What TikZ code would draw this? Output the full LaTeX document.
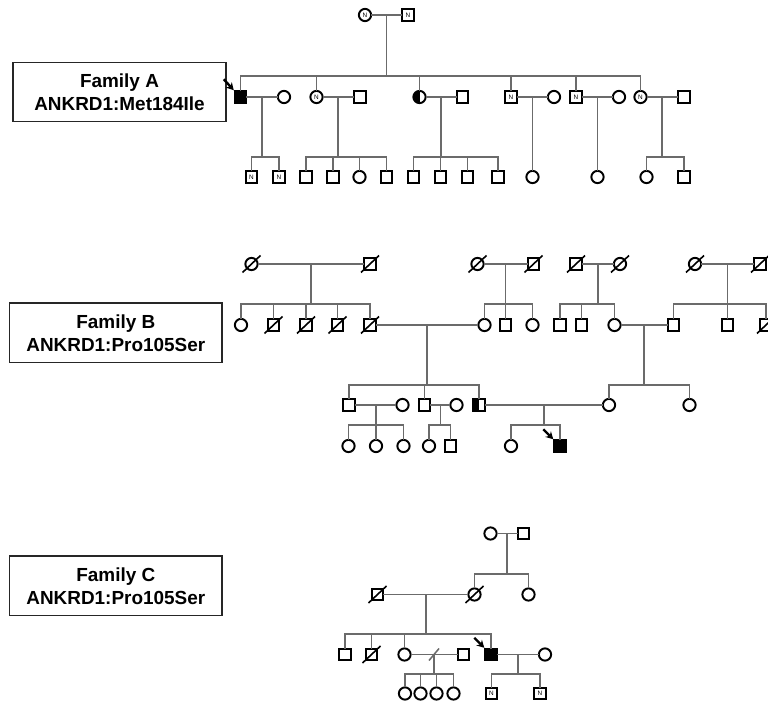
\documentclass[tikz,border=0pt]{standalone}
\usepackage{fontspec}
\setmainfont{Liberation Sans}
\usetikzlibrary{calc,arrows.meta}
\tikzset{
  sym/.style={draw=black, line width=1.45pt, minimum size=8.6pt, inner sep=0pt, outer sep=0pt, fill=white, font=\fontsize{4.8}{5}\selectfont},
  male/.style={sym, rectangle},
  female/.style={sym, circle, minimum size=9.2pt},
  aff/.style={fill=black},
  half/.style={path picture={\fill[black] (path picture bounding box.south west) rectangle (path picture bounding box.north);}},
  conn/.style={draw=black!58, line width=1.15pt},
  dslash/.style={draw=black, line width=1.2pt},
  prob/.style={-{Stealth[length=5.5pt,width=6pt]}, line width=1.8pt, draw=black},
  famlabel/.style={draw=black!85, line width=1.2pt, minimum width=159.5pt, minimum height=44.5pt, align=center, inner sep=0pt, font=\bfseries\fontsize{14.2}{17.3}\selectfont},
}
\begin{document}
\begin{tikzpicture}[x=0.75pt,y=-0.75pt]
\useasboundingbox (0,0) rectangle (768,702);

% ---------------- labels
\node[famlabel] (labA) at (119.5,92) {Family A\\ANKRD1:Met184Ile};
\node[famlabel] (labB) at (115.8,332.8) {Family B\\ANKRD1:Pro105Ser};
\node[famlabel] (labC) at (115.8,585.8) {Family C\\ANKRD1:Pro105Ser};

% ================= Family A
\node[female] (a0f) at (365,15) {N};
\node[male]   (a0m) at (408,15) {N};
\node[male,aff] (a1) at (240.5,97) {};
\node[female] (a1s) at (284,97) {};
\node[female] (a2) at (316.5,97) {N};
\node[male]   (a2s) at (360,97) {};
\node[female,half] (a3) at (419.5,97) {};
\node[male]   (a3s) at (462.5,97) {};
\node[male]   (a4) at (511,97) {N};
\node[female] (a4s) at (554,97) {};
\node[male]   (a5) at (576,97) {N};
\node[female] (a5s) at (619,97) {};
\node[female] (a6) at (640.5,97) {N};
\node[male]   (a6s) at (684,97) {};

\node[male] (a1c1) at (251.5,177) {N};
\node[male] (a1c2) at (279,177) {N};
\node[male] (a2c1) at (306,177) {};
\node[male] (a2c2) at (333,177) {};
\node[female] (a2c3) at (359.5,177) {};
\node[male] (a2c4) at (386.5,177) {};
\node[male] (a3c1) at (413.5,177) {};
\node[male] (a3c2) at (440.5,177) {};
\node[male] (a3c3) at (467.5,177) {};
\node[male] (a3c4) at (498,177) {};
\node[female] (a4c1) at (532.5,177) {};
\node[female] (a5c1) at (597.5,177) {};
\node[female] (a6c1) at (646.5,177) {};
\node[male] (a6c2) at (684,177) {};

\draw[conn] (a0f) -- (a0m);
\draw[conn] ($(a0f)!0.5!(a0m)$) -- ++(0,61) coordinate (sa0);
\foreach \c in {a1,a2,a3,a4,a5,a6} \draw[conn] (\c.north) |- (sa0);
\foreach \p/\q in {a1/a1s,a2/a2s,a3/a3s,a4/a4s,a5/a5s,a6/a6s} \draw[conn] (\p) -- (\q);
\draw[conn] ($(a1)!0.5!(a1s)$) -- ++(0,60) coordinate (sa1);
\foreach \c in {a1c1,a1c2} \draw[conn] (\c.north) |- (sa1);
\draw[conn] ($(a2)!0.5!(a2s)$) -- ++(0,60) coordinate (sa2);
\foreach \c in {a2c1,a2c2,a2c3,a2c4} \draw[conn] (\c.north) |- (sa2);
\draw[conn] ($(a3)!0.5!(a3s)$) -- ++(0,60) coordinate (sa3);
\foreach \c in {a3c1,a3c2,a3c3,a3c4} \draw[conn] (\c.north) |- (sa3);
\draw[conn] ($(a4)!0.5!(a4s)$) -- (a4c1.north);
\draw[conn] ($(a5)!0.5!(a5s)$) -- (a5c1.north);
\draw[conn] ($(a6)!0.5!(a6s)$) -- ++(0,60) coordinate (sa6);
\foreach \c in {a6c1,a6c2} \draw[conn] (\c.north) |- (sa6);
\draw[prob] ($(a1.north west)+(-11,-12)$) -- ($(a1.north west)+(-1,-1)$);

% ================= Family B
\node[female] (b1f) at (251.5,264) {};
\node[male]   (b1m) at (370,264) {};
\node[female] (b2f) at (477.5,264) {};
\node[male]   (b2m) at (533.5,264) {};
\node[male]   (b3m) at (576,264) {};
\node[female] (b3f) at (620,264) {};
\node[female] (b4f) at (695,264) {};
\node[male]   (b4m) at (760,264) {};

\node[female] (b1c1) at (241,325) {};
\node[male] (b1c2) at (273.5,325) {};
\node[male] (b1c3) at (306,325) {};
\node[male] (b1c4) at (337.5,325) {};
\node[male] (b1c5) at (370,325) {};
\node[female] (b2c1) at (484.5,325) {};
\node[male] (b2c2) at (505.5,325) {};
\node[female] (b2c3) at (532.5,325) {};
\node[male] (b3c1) at (560,325) {};
\node[male] (b3c2) at (581.5,325) {};
\node[female] (b3c3) at (614.5,325) {};
\node[male] (b4c1) at (673.5,325) {};
\node[male] (b4c2) at (727.5,325) {};
\node[male] (b4c3) at (766,325) {};

\node[male] (b5c1) at (349,405) {};
\node[female] (b5c1s) at (402.5,405) {};
\node[male] (b5c2) at (424.5,405) {};
\node[female] (b5c2s) at (456.5,405) {};
\node[male,half] (b5c3) at (479,405) {};
\node[female] (b6c1) at (609,405) {};
\node[female] (b6c2) at (689.5,405) {};

\node[female] (g1) at (348.5,446) {};
\node[female] (g2) at (376,446) {};
\node[female] (g3) at (403.5,446) {};
\node[female] (g4) at (429,446) {};
\node[male]   (g5) at (450.5,446) {};
\node[female] (g6) at (511,446) {};
\node[male,aff] (g7) at (560,446) {};

\foreach \p/\q in {b1f/b1m,b2f/b2m,b3m/b3f,b4f/b4m,b1c5/b2c1,b3c3/b4c1,b5c1/b5c1s,b5c2/b5c2s,b5c3/b6c1} \draw[conn] (\p) -- (\q);
\draw[conn] ($(b1f)!0.5!(b1m)$) -- ++(0,40) coordinate (sb1);
\foreach \c in {b1c1,b1c2,b1c3,b1c4,b1c5} \draw[conn] (\c.north) |- (sb1);
\draw[conn] ($(b2f)!0.5!(b2m)$) -- ++(0,40) coordinate (sb2);
\foreach \c in {b2c1,b2c2,b2c3} \draw[conn] (\c.north) |- (sb2);
\draw[conn] ($(b3m)!0.5!(b3f)$) -- ++(0,40) coordinate (sb3);
\foreach \c in {b3c1,b3c2,b3c3} \draw[conn] (\c.north) |- (sb3);
\draw[conn] ($(b4f)!0.5!(b4m)$) -- ++(0,40) coordinate (sb4);
\foreach \c in {b4c1,b4c2,b4c3} \draw[conn] (\c.north) |- (sb4);
\draw[conn] ($(b1c5)!0.5!(b2c1)$) -- ++(0,60) coordinate (sb5);
\foreach \c in {b5c1,b5c2,b5c3} \draw[conn] (\c.north) |- (sb5);
\draw[conn] ($(b3c3)!0.5!(b4c1)$) -- ++(0,60) coordinate (sb6);
\foreach \c in {b6c1,b6c2} \draw[conn] (\c.north) |- (sb6);
\draw[conn] ($(b5c1)!0.5!(b5c1s)$) -- ++(0,20) coordinate (sb7);
\foreach \c in {g1,g2,g3} \draw[conn] (\c.north) |- (sb7);
\draw[conn] ($(b5c2)!0.5!(b5c2s)$) -- ++(0,20) coordinate (sb8);
\foreach \c in {g4,g5} \draw[conn] (\c.north) |- (sb8);
\draw[conn] ($(b5c3)!0.5!(b6c1)$) -- ++(0,20) coordinate (sb9);
\foreach \c in {g6,g7} \draw[conn] (\c.north) |- (sb9);
\draw[prob] ($(g7.north west)+(-11,-11)$) -- ($(g7.north west)+(-1,-1)$);

% ================= Family C
\node[female] (c0f) at (490.5,533.5) {};
\node[male]   (c0m) at (523.5,533.5) {};
\node[male]   (c1m) at (377.5,594.5) {};
\node[female] (c1f) at (474.5,594.5) {};
\node[female] (c1s) at (528.5,594.5) {};
\node[male]   (c2a) at (345,654.5) {};
\node[male]   (c2b) at (371.5,654.5) {};
\node[female] (c2c) at (404.5,654.5) {};
\node[male]   (c2cs) at (463.5,654.5) {};
\node[male,aff] (c2d) at (491,654.5) {};
\node[female] (c2ds) at (545,654.5) {};
\node[female] (h1) at (405,693.5) {};
\node[female] (h2) at (420.5,693.5) {};
\node[female] (h3) at (436.5,693.5) {};
\node[female] (h4) at (453.5,693.5) {};
\node[male]   (h5) at (491.5,693.5) {N};
\node[male]   (h6) at (540,693.5) {N};

\foreach \p/\q in {c0f/c0m,c1m/c1f,c2c/c2cs,c2d/c2ds} \draw[conn] (\p) -- (\q);
\draw[conn] ($(c0f)!0.5!(c0m)$) -- ++(0,40.5) coordinate (sc0);
\foreach \c in {c1f,c1s} \draw[conn] (\c.north) |- (sc0);
\draw[conn] ($(c1m)!0.5!(c1f)$) -- ++(0,39.5) coordinate (sc1);
\foreach \c in {c2a,c2b,c2c,c2d} \draw[conn] (\c.north) |- (sc1);
\coordinate (mc2) at ($(c2c)!0.5!(c2cs)$);
\draw[conn] (mc2) -- ++(0,19.5) coordinate (sc2);
\foreach \c in {h1,h2,h3,h4} \draw[conn] (\c.north) |- (sc2);
\draw[conn] ($(mc2)+(-5,6)$) -- ($(mc2)+(5,-6)$);
\draw[conn] ($(c2d)!0.5!(c2ds)$) -- ++(0,19.5) coordinate (sc3);
\foreach \c in {h5,h6} \draw[conn] (\c.north) |- (sc3);
\draw[prob] ($(c2d.north west)+(-11,-11)$) -- ($(c2d.north west)+(-1,-1)$);

% deceased slashes
\foreach \n in {b1f,b1m,b2f,b2m,b3m,b3f,b4f,b4m,b1c2,b1c3,b1c4,b1c5,b4c3,c1m,c1f,c2b}
  \draw[dslash] ($(\n.center)+(-9,8.5)$) -- ($(\n.center)+(9,-8.5)$);
\end{tikzpicture}
\end{document}
